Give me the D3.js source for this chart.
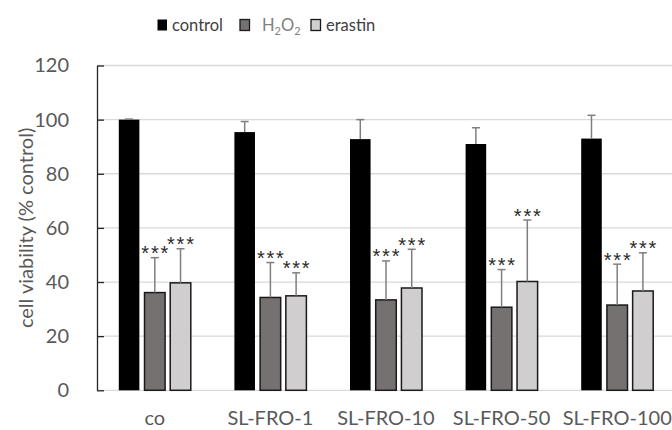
<!DOCTYPE html>
<html><head><meta charset="utf-8">
<script src="https://cdn.jsdelivr.net/npm/d3@7"></script>
<style>body{margin:0;background:#fff}svg{display:block}</style>
</head><body><svg id="c" width="672" height="430"></svg>
<script>
const categories = ["co","SL-FRO-1","SL-FRO-10","SL-FRO-50","SL-FRO-100"];
const seriesNames = ["control","H2O2","erastin"];
const controlVals = [100, 95.4, 92.8, 91.0, 93.0];
const controlErr  = [0.2, 3.9, 7.2, 6.0, 8.6];
const h2o2Vals    = [36.1, 34.3, 33.4, 30.7, 31.5];
const h2o2Err     = [12.9, 12.9, 14.4, 13.9, 15.1];
const erastinVals = [39.7, 34.9, 37.8, 40.2, 36.7];
const erastinErr  = [12.6, 8.5, 14.3, 22.7, 14.1];
const h2o2Sig     = ["***","***","***","***","***"];
const erastinSig  = ["***","***","***","***","***"];
const yTicks = [0,20,40,60,80,100,120];
const yTitle = "cell viability (% control)";

const fills = {control:"#000000", H2O2:"#767171", erastin:"#d0cece"};
const strokes = {control:"none", H2O2:"#1a1a1a", erastin:"#1a1a1a"};
const FONT = "Lato, 'Open Sans', sans-serif";

const svg = d3.select("#c");
const x0 = d3.scaleBand().domain(categories).range([97, 675]).paddingInner(0).paddingOuter(0);
const groupW = 72;
const x1 = d3.scaleBand().domain(seriesNames).range([0, groupW]).paddingInner(0.2).paddingOuter(0);
const y = d3.scaleLinear().domain([0,120]).range([390.3, 65.5]);

// gridlines
svg.append("g").selectAll("line").data(yTicks).join("line")
  .attr("x1", 97).attr("x2", 672)
  .attr("y1", d=>y(d)).attr("y2", d=>y(d))
  .attr("stroke", "#d9d9d9").attr("stroke-width", 1.3);

// y axis
const yAxis = d3.axisLeft(y).tickValues(yTicks).tickSize(-7).tickPadding(28).tickSizeOuter(0);
const ga = svg.append("g").attr("transform", "translate(97,0)").call(yAxis);
ga.select(".domain").attr("stroke", "#262626").attr("stroke-width", 1.3);
ga.selectAll(".tick line").attr("stroke", "#262626").attr("stroke-width", 1.3);
ga.selectAll(".tick text").attr("font-family", FONT).attr("font-size", 20).attr("fill", "#595959");

// x labels
svg.append("g").selectAll("text").data(categories).join("text")
  .attr("x", d=>x0(d)+x0.bandwidth()/2).attr("y", 425)
  .attr("text-anchor","middle").attr("font-family", FONT).attr("font-size", 20)
  .attr("fill","#595959").text(d=>d);

// y title
svg.append("text").attr("transform", `translate(33,${(y(0)+y(120))/2}) rotate(-90)`)
  .attr("text-anchor","middle").attr("font-family", FONT).attr("font-size", 20)
  .attr("fill","#595959").text(yTitle);

const data = [];
categories.forEach((c,i)=>{
  data.push({cat:c, s:"control", v:controlVals[i], e:controlErr[i], sig:""});
  data.push({cat:c, s:"H2O2", v:h2o2Vals[i], e:h2o2Err[i], sig:h2o2Sig[i]});
  data.push({cat:c, s:"erastin", v:erastinVals[i], e:erastinErr[i], sig:erastinSig[i]});
});
const gx = d => x0(d.cat) + (x0.bandwidth()-groupW)/2 + x1(d.s);

// bars
svg.append("g").selectAll("rect").data(data).join("rect")
  .attr("x", d=>gx(d)).attr("width", x1.bandwidth())
  .attr("y", d=>y(d.v)).attr("height", d=>y(0)-y(d.v))
  .attr("fill", d=>fills[d.s]).attr("stroke", d=>strokes[d.s]).attr("stroke-width", 1.5);

// error bars
const eg = svg.append("g").attr("stroke","#7f7f7f").attr("stroke-width",1.5);
eg.selectAll("line.v").data(data).join("line").attr("class","v")
  .attr("x1", d=>gx(d)+x1.bandwidth()/2).attr("x2", d=>gx(d)+x1.bandwidth()/2)
  .attr("y1", d=>y(d.v)).attr("y2", d=>y(d.v+d.e));
eg.selectAll("line.c").data(data).join("line").attr("class","c")
  .attr("x1", d=>gx(d)+x1.bandwidth()/2-4).attr("x2", d=>gx(d)+x1.bandwidth()/2+4)
  .attr("y1", d=>y(d.v+d.e)).attr("y2", d=>y(d.v+d.e));

// significance stars
svg.append("g").selectAll("text").data(data.filter(d=>d.sig)).join("text")
  .attr("x", d=>gx(d)+x1.bandwidth()/2+0.9).attr("y", d=>y(d.v+d.e)+2.5)
  .attr("text-anchor","middle").attr("font-family","'Liberation Sans', Arial, sans-serif")
  .attr("font-size", 20).attr("letter-spacing", 1.8).attr("fill","#2b2b2b").text(d=>d.sig);

// legend
const legend = [
  {s:"control", x:157.5, tx:172},
  {s:"H2O2", x:240, tx:262},
  {s:"erastin", x:311, tx:326}
];
const lg = svg.append("g");
legend.forEach(L=>{
  lg.append("rect").attr("x", L.x).attr("y", 19.5).attr("width", 9.5).attr("height", 11)
    .attr("fill", fills[L.s]).attr("stroke", L.s==="control"?"none":"#1a1a1a").attr("stroke-width",1.3);
  const t = lg.append("text").attr("x", L.tx).attr("y", 31).attr("font-family", FONT)
    .attr("font-size", 16.5).attr("fill", L.s==="H2O2"?"#808080":"#404040");
  if (L.s==="H2O2") {
    t.append("tspan").text("H");
    t.append("tspan").attr("font-size", 11).attr("dy", 4).text("2");
    t.append("tspan").attr("dy", -4).text("O");
    t.append("tspan").attr("font-size", 11).attr("dy", 4).text("2");
  } else t.text(L.s);
});
</script></body></html>
